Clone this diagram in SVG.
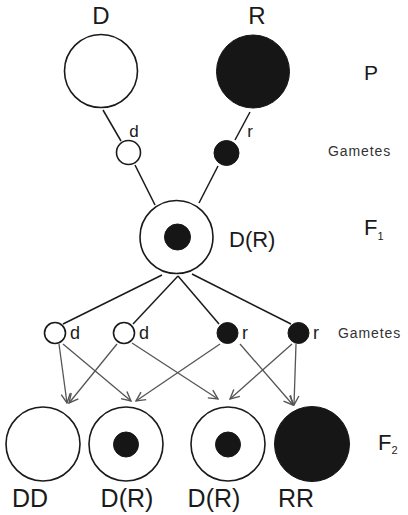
<svg xmlns="http://www.w3.org/2000/svg" width="408" height="515" viewBox="0 0 408 515">
<style>
.o{fill:#fff;stroke:#1a1a1a;stroke-width:1.6}
.f{fill:#161616;stroke:#161616;stroke-width:1}
.t{font-family:"Liberation Sans","DejaVu Sans",sans-serif;fill:#1a1a1a}
.g{font-family:"Liberation Sans","DejaVu Sans",sans-serif;fill:#333;font-size:14px;letter-spacing:0.9px}
.l{stroke:#1a1a1a;stroke-width:1.5;fill:none}
.a{stroke:#555;stroke-width:1.3;fill:none;marker-end:url(#ah)}
</style>
<defs>
<marker id="ah" viewBox="0 0 12 12" refX="11" refY="6" markerWidth="11" markerHeight="11" markerUnits="userSpaceOnUse" orient="auto">
<path d="M1,1 L11,6 L1,11" fill="none" stroke="#555" stroke-width="1.5"/>
</marker>
</defs>
<rect width="408" height="515" fill="#fff"/>
<g id="connectors">
<line class="l" x1="103" y1="110" x2="121" y2="141"/>
<line class="l" x1="135" y1="165" x2="155" y2="205"/>
<line class="l" x1="250" y1="112" x2="235" y2="140"/>
<line class="l" x1="218" y1="166" x2="199" y2="203"/>
<line class="l" x1="162" y1="275" x2="63" y2="324"/>
<line class="l" x1="178" y1="276" x2="133" y2="324"/>
<line class="l" x1="178" y1="276" x2="219" y2="324"/>
<line class="l" x1="192" y1="274" x2="291" y2="324"/>
<line class="a" x1="59" y1="344" x2="67" y2="403"/>
<line class="a" x1="63" y1="344" x2="131" y2="401"/>
<line class="a" x1="117" y1="344" x2="69" y2="403"/>
<line class="a" x1="132" y1="343" x2="218" y2="399"/>
<line class="a" x1="220" y1="344" x2="136" y2="401"/>
<line class="a" x1="240" y1="344" x2="293" y2="405"/>
<line class="a" x1="292" y1="344" x2="230" y2="399"/>
<line class="a" x1="296" y1="344" x2="294" y2="405"/>
</g>
<g id="P-D"><circle class="o" cx="101" cy="71" r="36.5"/><text class="t" x="101" y="24" font-size="24" text-anchor="middle">D</text></g>
<g id="P-R"><circle class="f" cx="253" cy="71.5" r="36.5"/><text class="t" x="257" y="24" font-size="24" text-anchor="middle">R</text></g>
<g id="label-P"><text class="t" x="371" y="80" font-size="21" text-anchor="middle">P</text></g>
<g id="gamete-d"><circle class="o" cx="128.5" cy="152.5" r="12"/><text class="t" x="134" y="137" font-size="17" text-anchor="middle">d</text></g>
<g id="gamete-r"><circle class="f" cx="226.5" cy="153" r="12.5"/><text class="t" x="250" y="137" font-size="17" text-anchor="middle">r</text></g>
<g id="label-gametes1"><text class="g" x="328" y="156">Gametes</text></g>
<g id="F1"><circle class="o" cx="176.5" cy="237" r="36.5"/><circle class="f" cx="177.5" cy="237" r="13"/><text class="t" x="229" y="247" font-size="22">D(R)</text></g>
<g id="label-F1"><text class="t" x="364" y="235" font-size="22">F<tspan font-size="11" dy="5">1</tspan></text></g>
<g id="g2-d1"><circle class="o" cx="55" cy="333" r="10.5"/><text class="t" x="70" y="339" font-size="18">d</text></g>
<g id="g2-d2"><circle class="o" cx="124" cy="333" r="10.5"/><text class="t" x="139" y="339" font-size="18">d</text></g>
<g id="g2-r1"><circle class="f" cx="227.5" cy="333" r="10.5"/><text class="t" x="242" y="339" font-size="18">r</text></g>
<g id="g2-r2"><circle class="f" cx="298.5" cy="333" r="10.5"/><text class="t" x="313" y="339" font-size="18">r</text></g>
<g id="label-gametes2"><text class="g" x="338" y="338">Gametes</text></g>
<g id="F2-DD"><circle class="o" cx="43" cy="444" r="37"/><text class="t" x="30" y="507" font-size="25" text-anchor="middle">DD</text></g>
<g id="F2-DR1"><circle class="o" cx="126" cy="444" r="37"/><circle class="f" cx="126" cy="444.5" r="12.5"/><text class="t" x="127" y="507" font-size="25" text-anchor="middle">D(R)</text></g>
<g id="F2-DR2"><circle class="o" cx="228" cy="444" r="37"/><circle class="f" cx="228" cy="444.5" r="12.5"/><text class="t" x="214" y="507" font-size="25" text-anchor="middle">D(R)</text></g>
<g id="F2-RR"><circle class="f" cx="312" cy="444" r="37.5"/><text class="t" x="296" y="507" font-size="25" text-anchor="middle">RR</text></g>
<g id="label-F2"><text class="t" x="378" y="450" font-size="22">F<tspan font-size="11" dy="4">2</tspan></text></g>
</svg>
